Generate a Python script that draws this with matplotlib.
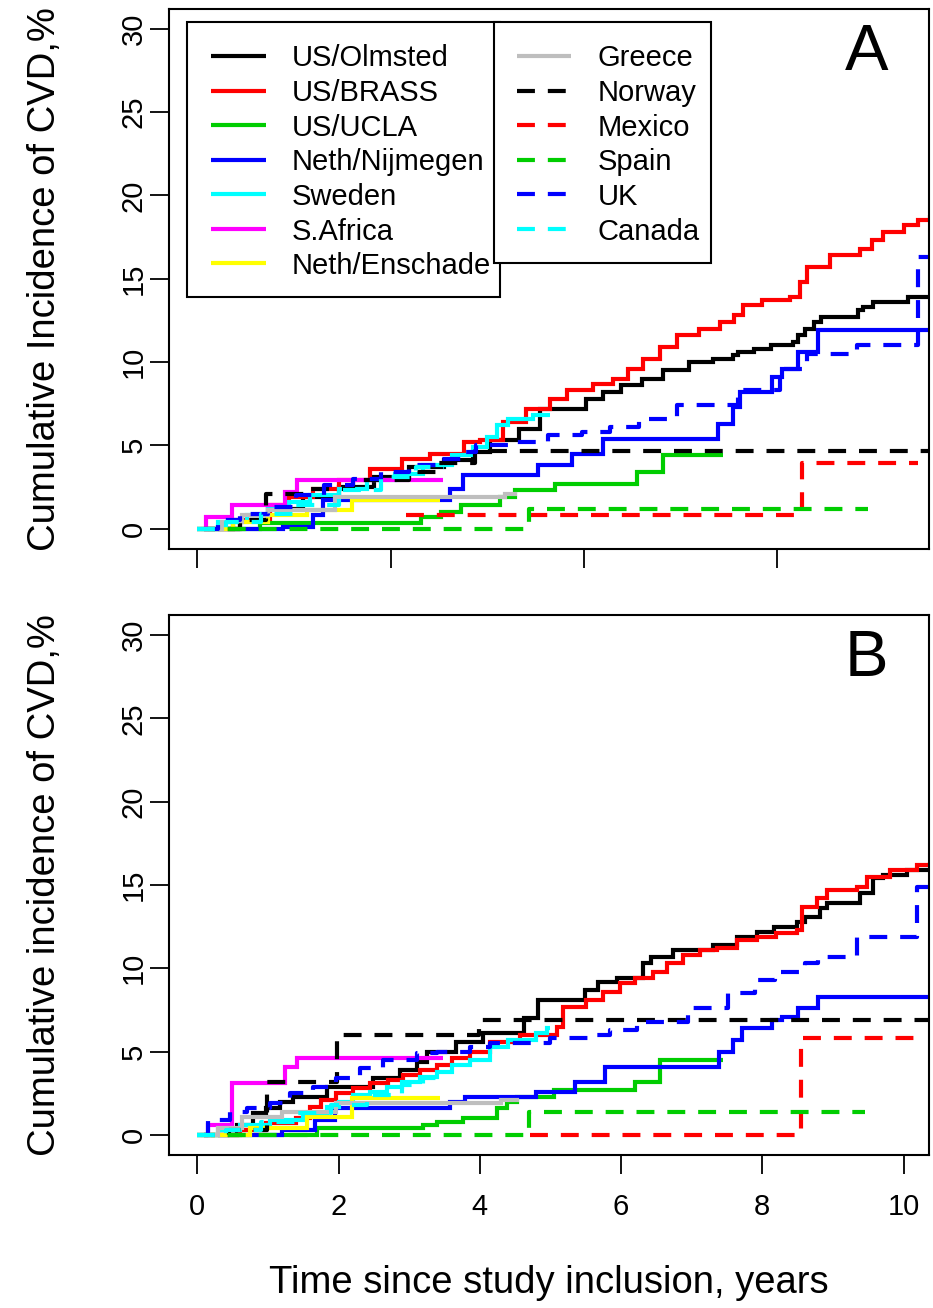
import matplotlib
matplotlib.use("Agg")
import matplotlib.pyplot as plt
from matplotlib.lines import Line2D
from matplotlib.patches import Rectangle

plt.rcParams['font.family'] = ['Liberation Sans', 'DejaVu Sans']

# ---------------- data (time in years, cumulative incidence in %) ----------------
# Panel A
a_olmsted_t = [0.1, 0.5, 1.0, 1.5, 2.0, 2.5, 3.0, 3.5, 3.9, 4.14, 4.56, 4.85, 5.5, 5.74, 6.0, 6.3, 6.6, 6.96,
               7.3, 7.59, 7.65, 7.88, 8.12, 8.44, 8.5, 8.6, 8.73, 8.83, 9.35, 9.42, 9.57, 10.06, 10.37]
a_olmsted_v = [0, 0.5, 1.2, 1.9, 2.5, 3.1, 3.7, 4.1, 4.6, 5.3, 6.0, 7.2, 7.8, 8.2, 8.6, 9.0, 9.5, 10.0,
               10.2, 10.4, 10.6, 10.8, 11.0, 11.2, 11.6, 12.0, 12.4, 12.7, 13.1, 13.3, 13.6, 13.9, 13.9]
a_brass_t = [0.3, 0.6, 1.03, 1.3, 1.64, 2.0, 2.44, 2.9, 3.3, 3.77, 4.0, 4.33, 4.66, 5.0, 5.23, 5.6, 5.89, 6.1,
             6.31, 6.55, 6.79, 7.1, 7.4, 7.6, 7.73, 8.0, 8.39, 8.53, 8.63, 8.96, 9.38, 9.55, 9.71, 10.0, 10.2, 10.37]
a_brass_v = [0, 0.5, 1.4, 1.9, 2.4, 2.9, 3.6, 4.2, 4.5, 5.2, 5.3, 6.4, 7.2, 7.8, 8.3, 8.7, 9.0, 9.6,
             10.2, 10.9, 11.6, 12.0, 12.4, 12.8, 13.4, 13.7, 13.9, 14.8, 15.7, 16.4, 16.8, 17.3, 17.8, 18.2, 18.5, 18.8]
a_ucla_t = [0.15, 0.89, 3.17, 3.45, 3.73, 4.28, 4.5, 5.07, 6.23, 6.59, 7.45]
a_ucla_v = [0, 0.35, 0.7, 1.0, 1.4, 1.9, 2.3, 2.7, 3.4, 4.4, 4.4]
a_nijmegen_t = [0.3, 1.21, 1.64, 1.78, 3.58, 3.76, 4.83, 5.3, 5.75, 7.37, 7.59, 7.68, 8.14, 8.28, 8.5, 8.79, 10.37]
a_nijmegen_v = [0, 0.1, 0.8, 1.7, 2.4, 3.2, 3.8, 4.5, 5.4, 6.3, 7.3, 8.2, 9.1, 9.6, 10.6, 11.9, 11.9]
a_sweden_t = [0, 0.3, 0.7, 1.0, 1.3, 1.6, 2.0, 2.4, 2.8, 3.2, 3.6, 3.9, 4.1, 4.25, 4.4, 4.75, 5.0]
a_sweden_v = [0, 0.4, 0.8, 1.2, 1.6, 2.0, 2.4, 2.9, 3.3, 3.8, 4.4, 4.9, 5.5, 6.2, 6.6, 6.8, 6.8]
a_safrica_t = [0.1, 0.13, 0.49, 1.24, 1.41, 3.48]
a_safrica_v = [0, 0.7, 1.4, 2.2, 2.9, 2.9]
a_enschade_t = [0.1, 0.5, 1.0, 1.55, 2.19, 3.44]
a_enschade_v = [0, 0.4, 0.8, 1.1, 1.7, 1.7]
a_greece_t = [0.05, 0.35, 0.63, 1.0, 1.95, 4.36, 4.52]
a_greece_v = [0, 0.4, 0.8, 1.1, 1.9, 2.1, 2.1]
a_norway_t = [0, 0.6, 0.97, 1.6, 2.2, 3.0, 3.38, 3.93, 10.37]
a_norway_v = [0, 0.5, 2.1, 2.4, 2.9, 3.4, 3.96, 4.64, 4.64]
a_mexico_t = [2.96, 8.56, 10.2]
a_mexico_v = [0.84, 3.96, 3.96]
a_spain_t = [0, 4.7, 9.5]
a_spain_v = [0, 1.2, 1.2]
a_uk_t = [0.1, 0.3, 0.6, 1.0, 1.4, 1.8, 2.2, 2.6, 3.0, 3.4, 3.8, 3.95, 4.5, 4.97, 5.45, 5.84, 6.26, 6.79,
          7.66, 8.25, 8.63, 9.34, 10.2, 10.37]
a_uk_v = [0, 0.5, 0.9, 1.3, 2.0, 2.6, 3.0, 3.4, 3.8, 4.2, 4.6, 5.0, 5.2, 5.6, 5.8, 6.1, 6.6, 7.4,
          8.3, 9.6, 10.5, 11.0, 16.3, 16.3]
a_canada_t = [0, 0.4, 0.9, 1.4, 2.0, 2.6, 3.1, 3.5]
a_canada_v = [0, 0.4, 0.9, 1.4, 2.3, 3.1, 3.7, 3.7]

# Panel B
b_olmsted_t = [0.1, 0.56, 0.79, 0.98, 1.17, 1.36, 1.83, 2.49, 2.87, 3.11, 3.25, 3.67, 4.05, 4.62, 4.82, 5.49,
               5.68, 5.94, 6.31, 6.43, 6.74, 7.3, 7.64, 7.92, 8.16, 8.49, 8.6, 8.82, 8.91, 9.38, 9.57, 9.71,
               10.05, 10.37]
b_olmsted_v = [0, 0.6, 1.3, 1.6, 2.0, 2.3, 2.9, 3.4, 3.9, 4.4, 5.0, 5.6, 6.1, 7.0, 8.1, 8.7,
               9.2, 9.4, 10.3, 10.7, 11.1, 11.4, 11.9, 12.2, 12.5, 12.8, 13.1, 13.6, 13.9, 14.5, 15.4, 15.6,
               15.9, 15.9]
b_brass_t = [0.3, 0.6, 0.98, 1.4, 1.59, 1.75, 1.97, 2.2, 2.44, 2.7, 2.91, 3.15, 3.39, 3.6, 3.86, 4.14, 4.57,
             5.09, 5.18, 5.51, 5.75, 5.98, 6.2, 6.45, 6.65, 6.88, 7.12, 7.36, 7.64, 7.92, 8.2, 8.49, 8.56,
             8.77, 8.91, 9.34, 9.48, 9.81, 10.19, 10.37]
b_brass_v = [0, 0.3, 0.7, 1.0, 1.7, 2.1, 2.5, 2.8, 3.1, 3.3, 3.6, 3.9, 4.2, 4.6, 5.0, 5.6, 6.0,
             6.5, 7.7, 8.1, 8.6, 9.1, 9.4, 9.8, 10.3, 10.8, 11.1, 11.2, 11.7, 11.9, 12.1, 12.3, 13.7,
             14.2, 14.7, 14.9, 15.5, 15.9, 16.2, 16.4]
b_ucla_t = [0.2, 1.69, 3.2, 3.39, 3.76, 4.24, 4.38, 4.52, 5.05, 6.2, 6.55, 7.45]
b_ucla_v = [0, 0.4, 0.6, 0.8, 1.0, 1.6, 2.0, 2.3, 2.7, 3.2, 4.5, 4.5]
b_nijmegen_t = [0.3, 1.2, 1.67, 1.95, 3.58, 3.79, 4.8, 5.35, 5.77, 7.38, 7.59, 7.71, 8.14, 8.28, 8.51, 8.79, 10.37]
b_nijmegen_v = [0, 0.3, 0.9, 1.6, 2.0, 2.3, 2.6, 3.2, 4.1, 5.0, 5.7, 6.4, 6.9, 7.1, 7.6, 8.3, 8.3]
b_sweden_t = [0, 0.3, 0.6, 1.03, 1.5, 1.83, 2.0, 2.21, 2.45, 2.68, 2.9, 3.15, 3.4, 3.6, 3.86, 4.14, 4.4, 4.8,
              4.95, 5.0]
b_sweden_v = [0, 0.3, 0.6, 0.9, 1.3, 1.7, 2.0, 2.4, 2.6, 2.9, 3.2, 3.5, 3.8, 4.2, 4.5, 5.3, 5.7, 6.1,
              6.4, 6.4]
b_safrica_t = [0.1, 0.15, 0.49, 1.24, 1.41, 3.48]
b_safrica_v = [0, 0.6, 3.1, 4.1, 4.6, 4.6]
b_enschade_t = [0.1, 0.74, 1.55, 2.19, 3.44]
b_enschade_v = [0, 0.4, 1.1, 2.2, 2.2]
b_greece_t = [0.05, 0.3, 0.63, 1.2, 1.97, 4.3, 4.55]
b_greece_v = [0, 0.4, 1.1, 1.4, 1.9, 2.1, 2.1]
b_norway_t = [0, 0.45, 0.99, 1.98, 3.99, 10.37]
b_norway_v = [0, 0.3, 3.2, 6.0, 6.9, 6.9]
b_mexico_t = [4.71, 8.55, 10.23]
b_mexico_v = [0, 5.8, 5.8]
b_spain_t = [0, 4.69, 9.45]
b_spain_v = [0, 1.4, 1.4]
b_uk_t = [0.1, 0.15, 0.46, 0.7, 1.03, 1.31, 1.64, 1.97, 2.3, 2.63, 3.11, 3.39, 3.86, 4.14, 5.0, 5.62, 5.84,
          6.22, 6.95, 7.52, 7.9, 8.18, 8.61, 8.79, 9.34, 10.19, 10.37]
b_uk_v = [0, 0.9, 1.4, 1.6, 1.9, 2.5, 2.9, 3.4, 4.0, 4.5, 4.9, 5.0, 5.3, 5.5, 5.8, 6.0, 6.3,
          6.8, 7.6, 8.5, 9.3, 9.8, 10.3, 10.7, 11.9, 14.9, 14.9]
b_canada_t = [0, 0.4, 0.9, 1.4, 1.9, 2.4, 2.9, 3.2, 3.5]
b_canada_v = [0, 0.3, 0.8, 1.3, 1.8, 2.4, 3.0, 3.4, 3.4]

cohorts = ["US/Olmsted", "US/BRASS", "US/UCLA", "Neth/Nijmegen", "Sweden", "S.Africa",
           "Neth/Enschade", "Greece", "Norway", "Mexico", "Spain", "UK", "Canada"]
colors = ["#000000", "#FF0000", "#00CD00", "#0000FF", "#00FFFF", "#FF00FF",
          "#FFFF00", "#BEBEBE", "#000000", "#FF0000", "#00CD00", "#0000FF", "#00FFFF"]
dashed = [False] * 8 + [True] * 5

y_ticks = [0, 5, 10, 15, 20, 25, 30]
xb_ticks = [0, 2, 4, 6, 8, 10]
xa_ticks = [k * 1000 / 365.25 for k in range(4)]   # unlabeled ticks every 1000 days

panel_a = [(a_olmsted_t, a_olmsted_v), (a_brass_t, a_brass_v), (a_ucla_t, a_ucla_v),
           (a_nijmegen_t, a_nijmegen_v), (a_sweden_t, a_sweden_v), (a_safrica_t, a_safrica_v),
           (a_enschade_t, a_enschade_v), (a_greece_t, a_greece_v), (a_norway_t, a_norway_v),
           (a_mexico_t, a_mexico_v), (a_spain_t, a_spain_v), (a_uk_t, a_uk_v), (a_canada_t, a_canada_v)]
panel_b = [(b_olmsted_t, b_olmsted_v), (b_brass_t, b_brass_v), (b_ucla_t, b_ucla_v),
           (b_nijmegen_t, b_nijmegen_v), (b_sweden_t, b_sweden_v), (b_safrica_t, b_safrica_v),
           (b_enschade_t, b_enschade_v), (b_greece_t, b_greece_v), (b_norway_t, b_norway_v),
           (b_mexico_t, b_mexico_v), (b_spain_t, b_spain_v), (b_uk_t, b_uk_v), (b_canada_t, b_canada_v)]

# ---------------- figure ----------------
W, H, DPI = 933, 1308, 100
fig = plt.figure(figsize=(W / DPI, H / DPI), dpi=DPI)
fig.patch.set_facecolor("white")

LW = 3.0
DASH = (4.3, 3.1)
TICK_FS = 21
LAB_FS = 27.5


def style_kwargs(i):
    kw = dict(color=colors[i], lw=LW, solid_capstyle="butt", solid_joinstyle="miter")
    if dashed[i]:
        kw.update(linestyle=(0, DASH), dash_capstyle="butt")
    return kw


def make_axes(rect, data, xticks, xlabels, ylabel, letter):
    ax = fig.add_axes(rect)
    for i, (t, v) in enumerate(data):
        ax.step(t, v, where="post", **style_kwargs(i))
    ax.set_xlim(-0.40, 10.36)
    ax.set_ylim(-1.2, 31.2)
    ax.set_yticks(y_ticks)
    ax.set_yticklabels([str(y) for y in y_ticks])
    ax.set_xticks(xticks)
    ax.set_xticklabels(xlabels)
    for s in ax.spines.values():
        s.set_linewidth(1.5)
    ax.tick_params(direction="out", length=13.5, width=1.3, labelsize=TICK_FS)
    ax.tick_params(axis="y", pad=2)
    ax.tick_params(axis="x", pad=14)
    for lbl in ax.get_yticklabels():
        lbl.set_rotation(90)
        lbl.set_va("center")
    ax.set_ylabel(ylabel, fontsize=LAB_FS)
    ax.yaxis.set_label_coords(-0.163, 0.5)
    ax.yaxis.label.set_va("center")
    ax.text(0.9178, 0.887, letter, transform=ax.transAxes, fontsize=47,
            ha="center", va="baseline")
    return ax


axA = make_axes([169 / W, 1 - 548.7 / H, 760 / W, 540 / H], panel_a, xa_ticks,
                ["" for _ in xa_ticks], "Cumulative Incidence of CVD,%", "A")
axB = make_axes([169 / W, 1 - 1155 / H, 760 / W, 540 / H], panel_b, xb_ticks,
                [str(x) for x in xb_ticks], "Cumulative incidence of CVD,%", "B")
axB.set_xlabel("Time since study inclusion, years", fontsize=LAB_FS)
axB.xaxis.set_label_coords(0.5, -0.237)
axB.xaxis.label.set_va("center")


# ---------------- legend (two framed boxes, pixel layout) ----------------
def fx(x):
    return x / W


def fy(y):
    return 1 - y / H


def legend_box(x0, x1, y0, y1, idxs, line_x0, line_x1, text_x, rows):
    fig.add_artist(Rectangle((fx(x0), fy(y1)), fx(x1) - fx(x0), fy(y0) - fy(y1),
                             transform=fig.transFigure, facecolor="white",
                             edgecolor="black", lw=1.5, zorder=5))
    for i, ry in zip(idxs, rows):
        kw = style_kwargs(i)
        fig.add_artist(Line2D([fx(line_x0), fx(line_x1)], [fy(ry), fy(ry)],
                              transform=fig.transFigure, zorder=6, **kw))
        fig.text(fx(text_x), fy(ry + 10.5), cohorts[i], fontsize=21,
                 ha="left", va="baseline", zorder=6)


rows = [56.0, 90.6, 125.2, 159.8, 194.4, 229.0, 263.4]
legend_box(187, 500, 21.7, 296.7, list(range(7)), 210.7, 265.9, 291.5, rows)
legend_box(493.5, 710.7, 21.7, 263.3, list(range(7, 13)), 517, 571, 597.4, rows[:6])

fig.savefig("out.png", dpi=DPI, facecolor="white")
